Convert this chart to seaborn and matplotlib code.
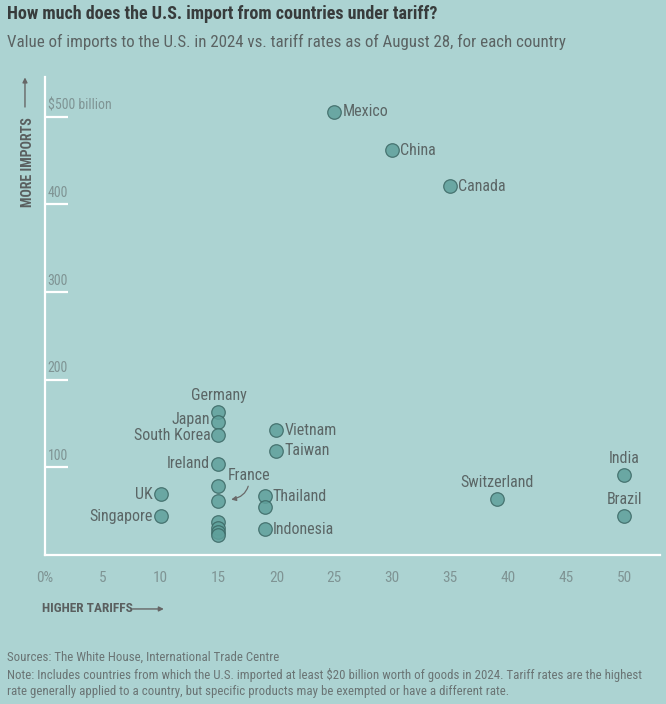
import matplotlib
matplotlib.use('Agg')
import matplotlib.pyplot as plt
from matplotlib import font_manager
import pandas as pd
import seaborn as sns

# Tariff rates (%) vs 2024 imports ($ billion)
countries = ['Mexico', 'China', 'Canada', 'Germany', 'Japan', 'South Korea',
             'Vietnam', 'Taiwan', 'Ireland', 'Italy', 'France', 'UK',
             'Singapore', 'Thailand', 'Malaysia', 'Indonesia', 'Netherlands',
             'Israel', 'Austria', 'Belgium', 'Switzerland', 'India', 'Brazil']
tariffs = [25, 30, 35, 15, 15, 15, 20, 20, 15, 15, 15, 10, 10, 19, 19, 19,
           15, 15, 15, 15, 39, 50, 50]
imports = [506, 462, 421, 163, 152, 137, 142, 119, 104, 78, 61, 69, 44, 67,
           55, 29, 37, 30, 26, 22, 64, 91, 44]

right_labels = ['Mexico', 'China', 'Canada', 'Vietnam', 'Taiwan', 'Thailand',
                'Indonesia']
left_labels = ['Japan', 'South Korea', 'Ireland', 'UK', 'Singapore']
top_labels = ['Germany', 'Switzerland', 'India', 'Brazil']

y_ticks = [100, 200, 300, 400, 500]
y_tick_labels = ['100', '200', '300', '400', '$500 billion']
x_ticks = [0, 5, 10, 15, 20, 25, 30, 35, 40, 45, 50]
x_tick_labels = ['0%', '5', '10', '15', '20', '25', '30', '35', '40', '45', '50']

df = pd.DataFrame({'country': countries, 'tariff': tariffs, 'imports': imports})

bg = '#acd3d2'
text_col = '#5b6666'
light_col = '#7f9494'

sns.set_style('white')
names = {f.name for f in font_manager.fontManager.ttflist}
family = 'DejaVu Sans'
for cand in ['Roboto Condensed', 'Liberation Sans Narrow', 'Open Sans Condensed']:
    if cand in names:
        family = cand
        break
plt.rcParams['font.family'] = [family, 'DejaVu Sans']

fig = plt.figure(figsize=(6.66, 7.04), dpi=100, facecolor=bg)
ax = fig.add_axes([0.067, 0.212, 0.924, 0.678])
ax.set_facecolor(bg)

sns.scatterplot(data=df, x='tariff', y='imports', ax=ax, s=95,
                color='#5fa09b', edgecolor='#3b6764', linewidth=0.9,
                alpha=0.85, zorder=3)

ax.set_xlim(0, 53.1)
ax.set_ylim(0, 545)

for s in ['top', 'right']:
    ax.spines[s].set_visible(False)
for s in ['left', 'bottom']:
    ax.spines[s].set_color('white')
    ax.spines[s].set_linewidth(1.6)

ax.set_xticks(x_ticks)
ax.set_xticklabels(x_tick_labels)
ax.tick_params(axis='x', colors='white', width=1.3, length=5, pad=7,
               labelcolor=light_col, labelsize=11)
ax.set_yticks([])
ax.set_xlabel('')
ax.set_ylabel('')

for v, lab in zip(y_ticks, y_tick_labels):
    ax.hlines(v, 0, 2.0, color='white', lw=1.6, zorder=2)
    ax.text(0.25, v + 5, lab, color=light_col, fontsize=10, va='bottom',
            ha='left')

# point labels
nudge = {'Japan': 2, 'South Korea': -1}
for c, t, v in zip(countries, tariffs, imports):
    dv = nudge.get(c, 0)
    if c in right_labels:
        ax.text(t + 0.7, v, c, color=text_col, fontsize=11.5, va='center',
                ha='left')
    elif c in left_labels:
        ax.text(t - 0.7, v + dv, c, color=text_col, fontsize=11.5,
                va='center', ha='right')
    elif c in top_labels:
        ax.text(t, v + 10, c, color=text_col, fontsize=11.5, va='bottom',
                ha='center')

fr = df[df.country == 'France'].iloc[0]
ax.annotate('France', xy=(fr.tariff + 1.1, fr.imports + 2),
            xytext=(fr.tariff + 0.8, fr.imports + 21),
            color=text_col, fontsize=11.5, va='bottom', ha='left',
            arrowprops=dict(arrowstyle='-|>', color='#6a6a6a', lw=0.9,
                            mutation_scale=7,
                            connectionstyle='arc3,rad=-0.45',
                            shrinkA=0, shrinkB=0),
            zorder=4)

# axis hints
fig.text(0.042, 0.77, 'MORE IMPORTS', rotation=90, color='#5a5f5f',
         fontsize=10, fontweight='bold', ha='center', va='center')
ax.annotate('', xy=(0.0375, 0.890), xytext=(0.0375, 0.848),
            xycoords='figure fraction', textcoords='figure fraction',
            arrowprops=dict(arrowstyle='-|>', color='#666', lw=1.0,
                            mutation_scale=7, shrinkA=0, shrinkB=0))
fig.text(0.063, 0.135, 'HIGHER TARIFFS', color='#5a5f5f', fontsize=9.6,
         fontweight='bold', ha='left', va='center')
ax.annotate('', xy=(0.246, 0.135), xytext=(0.199, 0.135),
            xycoords='figure fraction', textcoords='figure fraction',
            arrowprops=dict(arrowstyle='-|>', color='#666', lw=1.0,
                            mutation_scale=7, shrinkA=0, shrinkB=0))

fig.text(0.011, 0.980, 'How much does the U.S. import from countries under tariff?',
         color='#383c3c', fontsize=13, fontweight='bold', ha='left',
         va='center')
fig.text(0.011, 0.940, 'Value of imports to the U.S. in 2024 vs. tariff rates as '
         'of August 28, for each country', color='#5b6363', fontsize=12.2,
         ha='left', va='center')

fig.text(0.011, 0.067, 'Sources: The White House, International Trade Centre',
         color='#6a7474', fontsize=9.3, ha='left', va='center')
fig.text(0.011, 0.030, 'Note: Includes countries from which the U.S. imported at '
         'least $20 billion worth of goods in 2024. Tariff rates are the highest\n'
         'rate generally applied to a country, but specific products may be '
         'exempted or have a different rate.', color='#6a7474', fontsize=9.3,
         ha='left', va='center', linespacing=1.35)

fig.savefig('out.png', dpi=100, facecolor=bg)
